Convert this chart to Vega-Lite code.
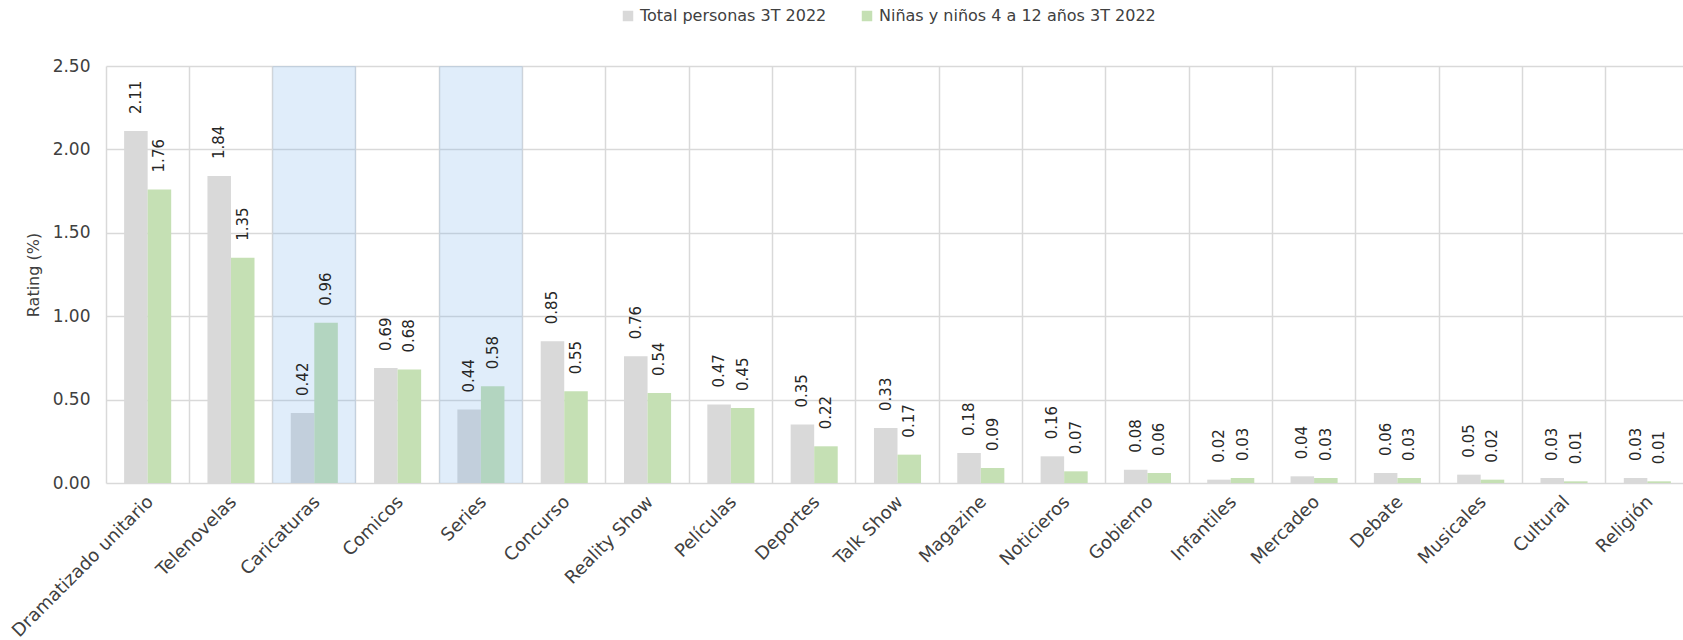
{
  "$schema": "https://vega.github.io/schema/vega-lite/v6.json",
  "width": 1583,
  "height": 417,
  "autosize": {"type": "none"},
  "padding": {"left": 106, "top": 66, "right": 0, "bottom": 157},
  "background": "white",
  "config": {"view": {"stroke": null}, "font": "DejaVu Sans"},
  "datasets": {
    "ratings": [
      {"Programa": "Dramatizado unitario", "Serie": "Total personas 3T 2022", "Rating": 2.11},
      {"Programa": "Dramatizado unitario", "Serie": "Niñas y niños 4 a 12 años 3T 2022", "Rating": 1.76},
      {"Programa": "Telenovelas", "Serie": "Total personas 3T 2022", "Rating": 1.84},
      {"Programa": "Telenovelas", "Serie": "Niñas y niños 4 a 12 años 3T 2022", "Rating": 1.35},
      {"Programa": "Caricaturas", "Serie": "Total personas 3T 2022", "Rating": 0.42},
      {"Programa": "Caricaturas", "Serie": "Niñas y niños 4 a 12 años 3T 2022", "Rating": 0.96},
      {"Programa": "Comicos", "Serie": "Total personas 3T 2022", "Rating": 0.69},
      {"Programa": "Comicos", "Serie": "Niñas y niños 4 a 12 años 3T 2022", "Rating": 0.68},
      {"Programa": "Series", "Serie": "Total personas 3T 2022", "Rating": 0.44},
      {"Programa": "Series", "Serie": "Niñas y niños 4 a 12 años 3T 2022", "Rating": 0.58},
      {"Programa": "Concurso", "Serie": "Total personas 3T 2022", "Rating": 0.85},
      {"Programa": "Concurso", "Serie": "Niñas y niños 4 a 12 años 3T 2022", "Rating": 0.55},
      {"Programa": "Reality Show", "Serie": "Total personas 3T 2022", "Rating": 0.76},
      {"Programa": "Reality Show", "Serie": "Niñas y niños 4 a 12 años 3T 2022", "Rating": 0.54},
      {"Programa": "Películas", "Serie": "Total personas 3T 2022", "Rating": 0.47},
      {"Programa": "Películas", "Serie": "Niñas y niños 4 a 12 años 3T 2022", "Rating": 0.45},
      {"Programa": "Deportes", "Serie": "Total personas 3T 2022", "Rating": 0.35},
      {"Programa": "Deportes", "Serie": "Niñas y niños 4 a 12 años 3T 2022", "Rating": 0.22},
      {"Programa": "Talk Show", "Serie": "Total personas 3T 2022", "Rating": 0.33},
      {"Programa": "Talk Show", "Serie": "Niñas y niños 4 a 12 años 3T 2022", "Rating": 0.17},
      {"Programa": "Magazine", "Serie": "Total personas 3T 2022", "Rating": 0.18},
      {"Programa": "Magazine", "Serie": "Niñas y niños 4 a 12 años 3T 2022", "Rating": 0.09},
      {"Programa": "Noticieros", "Serie": "Total personas 3T 2022", "Rating": 0.16},
      {"Programa": "Noticieros", "Serie": "Niñas y niños 4 a 12 años 3T 2022", "Rating": 0.07},
      {"Programa": "Gobierno", "Serie": "Total personas 3T 2022", "Rating": 0.08},
      {"Programa": "Gobierno", "Serie": "Niñas y niños 4 a 12 años 3T 2022", "Rating": 0.06},
      {"Programa": "Infantiles", "Serie": "Total personas 3T 2022", "Rating": 0.02},
      {"Programa": "Infantiles", "Serie": "Niñas y niños 4 a 12 años 3T 2022", "Rating": 0.03},
      {"Programa": "Mercadeo", "Serie": "Total personas 3T 2022", "Rating": 0.04},
      {"Programa": "Mercadeo", "Serie": "Niñas y niños 4 a 12 años 3T 2022", "Rating": 0.03},
      {"Programa": "Debate", "Serie": "Total personas 3T 2022", "Rating": 0.06},
      {"Programa": "Debate", "Serie": "Niñas y niños 4 a 12 años 3T 2022", "Rating": 0.03},
      {"Programa": "Musicales", "Serie": "Total personas 3T 2022", "Rating": 0.05},
      {"Programa": "Musicales", "Serie": "Niñas y niños 4 a 12 años 3T 2022", "Rating": 0.02},
      {"Programa": "Cultural", "Serie": "Total personas 3T 2022", "Rating": 0.03},
      {"Programa": "Cultural", "Serie": "Niñas y niños 4 a 12 años 3T 2022", "Rating": 0.01},
      {"Programa": "Religión", "Serie": "Total personas 3T 2022", "Rating": 0.03},
      {"Programa": "Religión", "Serie": "Niñas y niños 4 a 12 años 3T 2022", "Rating": 0.01}
    ],
    "highlight": [
      {"Programa": "Caricaturas"},
      {"Programa": "Series"}
    ]
  },
  "layer": [
    {
      "data": {"name": "ratings"},
      "mark": {"type": "bar"},
      "encoding": {
        "x": {
          "field": "Programa",
          "type": "nominal",
          "sort": ["Dramatizado unitario", "Telenovelas", "Caricaturas", "Comicos", "Series", "Concurso", "Reality Show", "Películas", "Deportes", "Talk Show", "Magazine", "Noticieros", "Gobierno", "Infantiles", "Mercadeo", "Debate", "Musicales", "Cultural", "Religión"],
          "scale": {"paddingInner": 0, "paddingOuter": 0},
          "axis": {
            "title": null,
            "bandPosition": 0,
            "labelOffset": 3,
            "labelAngle": -45,
            "labelAlign": "right",
            "labelBaseline": "middle",
            "labelPadding": 16,
            "labelFontSize": 18,
            "labelColor": "#404040",
            "labelLimit": 400,
            "labelOverlap": false,
            "labelBound": false,
            "labelFlush": false,
            "ticks": false,
            "domain": false,
            "grid": true,
            "gridColor": "#d9d9d9",
            "gridWidth": 1.5
          }
        },
        "xOffset": {
          "field": "Serie",
          "type": "nominal",
          "scale": {"domain": ["Total personas 3T 2022", "Niñas y niños 4 a 12 años 3T 2022"], "paddingOuter": 0.77, "paddingInner": 0}
        },
        "y": {
          "field": "Rating",
          "type": "quantitative",
          "scale": {"domain": [0, 2.5], "nice": false},
          "axis": {
            "title": "Rating (%)",
            "values": [0, 0.5, 1, 1.5, 2, 2.5],
            "format": ".2f",
            "domain": false,
            "ticks": false,
            "labelPadding": 16,
            "labelFontSize": 17,
            "labelColor": "#404040",
            "grid": true,
            "gridColor": "#d9d9d9",
            "gridWidth": 1.5,
            "titleFontSize": 16,
            "titleFontWeight": "normal",
            "titleColor": "#404040",
            "titleX": -65
          }
        },
        "color": {
          "field": "Serie",
          "type": "nominal",
          "scale": {"domain": ["Total personas 3T 2022", "Niñas y niños 4 a 12 años 3T 2022"], "range": ["#d9d9d9", "#c5e0b4"]},
          "legend": {
            "orient": "none",
            "legendX": 514,
            "legendY": -58,
            "direction": "horizontal",
            "title": null,
            "symbolType": "square",
            "symbolSize": 110,
            "symbolStrokeWidth": 0,
            "labelFontSize": 16,
            "labelColor": "#404040",
            "columnPadding": 32,
            "labelLimit": 400
          }
        }
      }
    },
    {
      "data": {"name": "highlight"},
      "mark": {"type": "bar", "fill": "#78b0e9", "opacity": 0.23},
      "encoding": {
        "x": {
          "field": "Programa",
          "type": "nominal",
          "sort": ["Dramatizado unitario", "Telenovelas", "Caricaturas", "Comicos", "Series", "Concurso", "Reality Show", "Películas", "Deportes", "Talk Show", "Magazine", "Noticieros", "Gobierno", "Infantiles", "Mercadeo", "Debate", "Musicales", "Cultural", "Religión"]
        },
        "y": {"datum": 2.5},
        "y2": {"datum": 0}
      }
    },
    {
      "data": {"name": "ratings"},
      "mark": {"type": "text", "angle": 270, "align": "left", "baseline": "middle", "dx": 17, "fontSize": 15, "color": "#262626"},
      "encoding": {
        "x": {
          "field": "Programa",
          "type": "nominal",
          "sort": ["Dramatizado unitario", "Telenovelas", "Caricaturas", "Comicos", "Series", "Concurso", "Reality Show", "Películas", "Deportes", "Talk Show", "Magazine", "Noticieros", "Gobierno", "Infantiles", "Mercadeo", "Debate", "Musicales", "Cultural", "Religión"]
        },
        "xOffset": {
          "field": "Serie",
          "type": "nominal",
          "scale": {"domain": ["Total personas 3T 2022", "Niñas y niños 4 a 12 años 3T 2022"], "paddingOuter": 0.77, "paddingInner": 0}
        },
        "y": {"field": "Rating", "type": "quantitative"},
        "text": {"field": "Rating", "type": "quantitative", "format": ".2f"}
      }
    }
  ]
}
